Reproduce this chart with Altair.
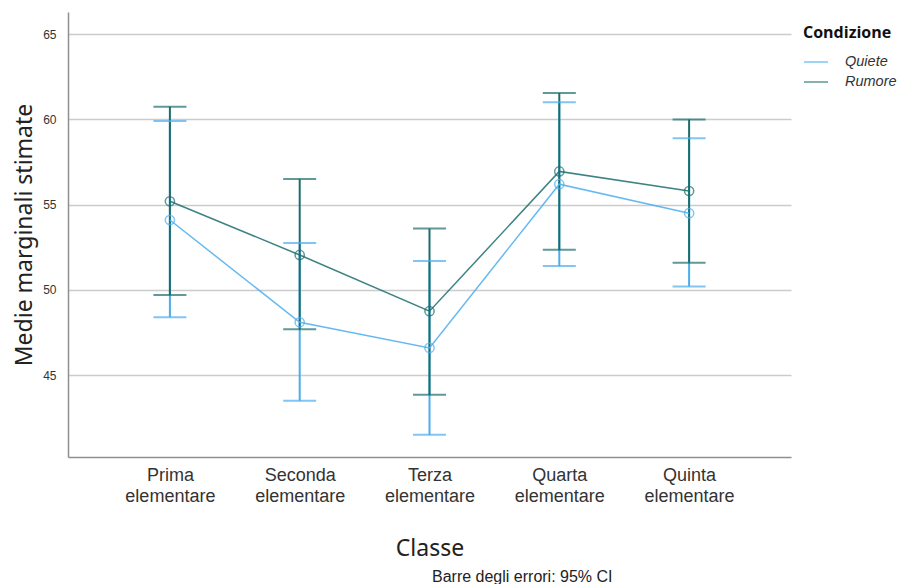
import altair as alt
import pandas as pd

classes = ["Prima elementare", "Seconda elementare", "Terza elementare",
           "Quarta elementare", "Quinta elementare"]
conditions = ["Quiete", "Rumore"]

quiete_mean = [54.1, 48.1, 46.6, 56.2, 54.5]
quiete_low = [48.4, 43.5, 41.5, 51.4, 50.2]
quiete_high = [59.9, 52.75, 51.7, 61.0, 58.9]

rumore_mean = [55.2, 52.05, 48.75, 56.95, 55.8]
rumore_low = [49.7, 47.7, 43.85, 52.35, 51.6]
rumore_high = [60.75, 56.5, 53.6, 61.55, 60.0]

colors = ["#4AADEE", "#1B6D6D"]

rows = []
for cond, ms, los, his in [("Quiete", quiete_mean, quiete_low, quiete_high),
                           ("Rumore", rumore_mean, rumore_low, rumore_high)]:
    for c, m, lo, hi in zip(classes, ms, los, his):
        rows.append({"Classe": c, "Condizione": cond, "mean": m, "low": lo,
                     "high": hi, "order": conditions.index(cond)})
df = pd.DataFrame(rows)

x = alt.X("Classe:N", sort=classes,
          scale=alt.Scale(type="point", padding=0.785),
          axis=alt.Axis(title="Classe", labelExpr="split(datum.label, ' ')",
                        labelAngle=0, ticks=False, grid=False,
                        domainColor="#8f8f8f", domainWidth=1.5,
                        labelFont="Liberation Sans", labelFontSize=18,
                        labelColor="#333333", labelPadding=9, labelLineHeight=21,
                        titleFont="Noto Sans", titleFontSize=23,
                        titleFontWeight="normal", titleColor="#222222",
                        titlePadding=32))

yscale = alt.Scale(domain=[40.2, 66.3], nice=False, zero=False)
yaxis = alt.Axis(title="Medie marginali stimate", values=[45, 50, 55, 60, 65],
                 ticks=False, grid=True, gridColor="#cccccc", gridWidth=1.5,
                 domainColor="#8f8f8f", domainWidth=1.5,
                 labelFont="Liberation Sans", labelFontSize=12,
                 labelColor="#333333", labelPadding=12,
                 titleFont="Noto Sans", titleFontSize=23,
                 titleFontWeight="normal", titleColor="#222222",
                 titlePadding=6)

color_scale = alt.Scale(domain=conditions, range=colors)
color = alt.Color(
    "Condizione:N", scale=color_scale,
    legend=alt.Legend(title="Condizione", orient="none", legendX=735, legendY=13,
                      titleFont="Open Sans", titleFontSize=16, titleFontWeight="bold",
                      titleColor="#111111", titlePadding=8,
                      labelFont="Liberation Sans", labelFontSize=14.5,
                      labelFontStyle="italic", labelColor="#333333",
                      symbolType="stroke", symbolSize=576, symbolStrokeWidth=1.5,
                      labelOffset=16, rowPadding=-4))

base = alt.Chart(df)

rules = base.mark_rule(strokeWidth=2).encode(
    x=x, y=alt.Y("low:Q", scale=yscale, axis=yaxis), y2="high:Q",
    color=color, order="order:Q")
caps_low = base.mark_tick(size=33, thickness=2, orient="horizontal").encode(
    x=x, y=alt.Y("low:Q", scale=yscale), color=color)
caps_high = base.mark_tick(size=33, thickness=2, orient="horizontal").encode(
    x=x, y=alt.Y("high:Q", scale=yscale), color=color)
lines = base.mark_line(strokeWidth=1.5, opacity=0.85).encode(
    x=x, y=alt.Y("mean:Q", scale=yscale), color=color,
    detail="Condizione:N")
points = base.mark_point(shape="circle", filled=False, size=85,
                         strokeWidth=1.5).encode(
    x=x, y=alt.Y("mean:Q", scale=yscale), color=color)

note = alt.Chart(pd.DataFrame({"t": ["Barre degli errori: 95% CI"]})).mark_text(
    align="left", baseline="middle", font="Liberation Sans", fontSize=16,
    color="#222222").encode(text="t:N", x=alt.value(364), y=alt.value(565))

chart = alt.layer(rules, caps_low, caps_high, lines, points, note).properties(
    width=723, height=445,
    autosize=alt.AutoSizeParams(type="none"),
    padding={"left": 60, "top": 4, "right": 110, "bottom": 127},
    background="white",
).configure_view(stroke=None)

chart.save("out.html", embed_options={"renderer": "svg", "actions": False})
